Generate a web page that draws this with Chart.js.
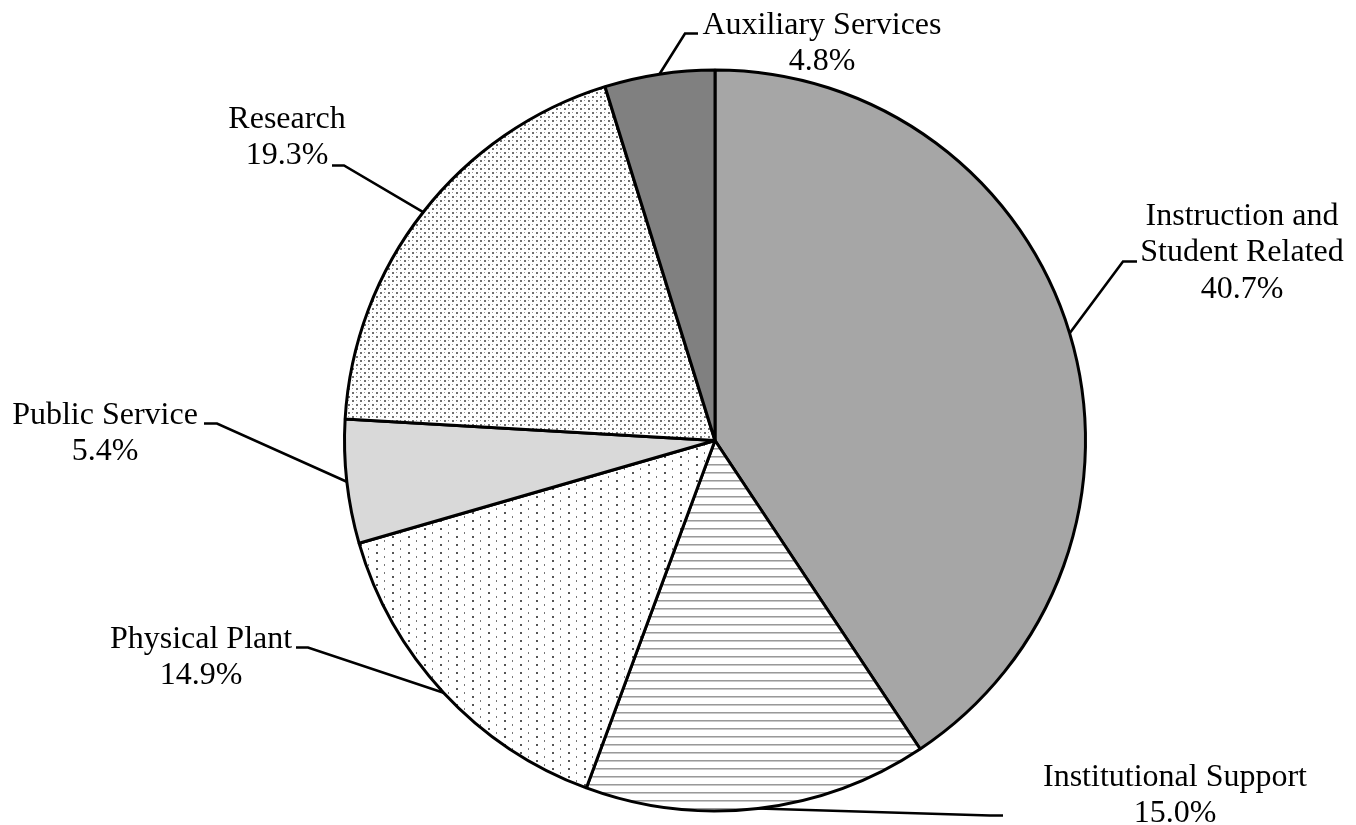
<!DOCTYPE html>
<html>
<head>
<meta charset="utf-8">
<script src="https://cdn.jsdelivr.net/npm/chart.js@4"></script>
<style>
  body { margin: 0; background: #fff; }
  #wrap { width: 1356px; height: 825px; }
</style>
</head>
<body>
<div id="wrap"><canvas id="expenseChart" width="1356" height="825"></canvas></div>
<script>
// Expenditure categories, clockwise from 12 o'clock
const categories = [
    ['Instruction and', 'Student Related'],
    ['Institutional Support'],
    ['Physical Plant'],
    ['Public Service'],
    ['Research'],
    ['Auxiliary Services'],
];
const shares = [40.7, 15.0, 14.9, 5.4, 19.3, 4.8];

// Small repeating tiles used as fills
function makePattern(size, drawTile) {
    const c = document.createElement('canvas');
    c.width = size[0];
    c.height = size[1];
    const g = c.getContext('2d');
    g.fillStyle = '#fff';
    g.fillRect(0, 0, c.width, c.height);
    drawTile(g);
    return c.getContext('2d').createPattern(c, 'repeat');
}

const ctx = document.getElementById('expenseChart').getContext('2d');

const hLines = makePattern([8, 8], (g) => {
    g.fillStyle = '#999';
    g.fillRect(0, 0, 8, 1);
    g.fillStyle = '#c8c8c8';
    g.fillRect(0, 1, 8, 1);
});

const sparseDots = makePattern([16, 8], (g) => {
    g.fillStyle = '#555';
    g.fillRect(8, 0, 2, 2);
    g.fillStyle = '#777';
    g.fillRect(0, 4, 1, 2);
});

const denseDots = makePattern([8, 8], (g) => {
    g.fillStyle = '#6f6f6f';
    g.fillRect(0, 0, 2, 2);
    g.fillRect(4, 4, 2, 2);
    g.fillStyle = '#a0a0a0';
    g.fillRect(4, 0, 1, 1);
    g.fillRect(0, 4, 1, 1);
});

const fills = ['#a6a6a6', hLines, sparseDots, '#d9d9d9', denseDots, '#808080'];

// Leader-line layout, offsets from the pie centre:
// elbow = bend point, end = where the line meets the text,
// tx = text centre x, ty = first baseline
const labelLayout = [
    { elbow: [408, -179], end: [422, -179], tx: 527, ty: -216 },
    { elbow: [275, 375], end: [288, 375], tx: 460, ty: 345 },
    { elbow: [-407, 207], end: [-419, 207], tx: -514, ty: 207 },
    { elbow: [-498, -17], end: [-511, -17], tx: -610, ty: -17 },
    { elbow: [-371, -275], end: [-383, -275], tx: -428, ty: -313 },
    { elbow: [-30, -407], end: [-17, -407], tx: 107, ty: -407 },
];

const leaderLabels = {
    id: 'leaderLabels',
    afterDatasetsDraw(chart) {
        const c = chart.ctx;
        const arcs = chart.getDatasetMeta(0).data;
        c.save();
        c.strokeStyle = '#000';
        c.lineWidth = 2.6;
        c.fillStyle = '#000';
        c.font = '32px "Liberation Serif", "Times New Roman", serif';
        c.textAlign = 'center';
        c.textBaseline = 'alphabetic';
        arcs.forEach((arc, i) => {
            const p = arc.getProps(['x', 'y', 'startAngle', 'endAngle', 'outerRadius'], true);
            const mid = (p.startAngle + p.endAngle) / 2;
            const ax = p.x + Math.cos(mid) * p.outerRadius;
            const ay = p.y + Math.sin(mid) * p.outerRadius;
            const L = labelLayout[i];
            c.beginPath();
            c.moveTo(ax, ay);
            c.lineTo(p.x + L.elbow[0], p.y + L.elbow[1]);
            c.lineTo(p.x + L.end[0], p.y + L.end[1]);
            c.stroke();

            const lines = categories[i].concat([shares[i].toFixed(1) + '%']);
            lines.forEach((t, k) => {
                c.fillText(t, p.x + L.tx, p.y + L.ty + k * 36.5);
            });
        });
        c.restore();
    },
};

new Chart(ctx, {
    type: 'pie',
    data: {
        labels: categories.map((c) => c.join(' ')),
        datasets: [
            {
                data: shares,
                backgroundColor: fills,
                borderColor: '#000',
                borderWidth: 3,
            },
        ],
    },
    options: {
        responsive: false,
        animation: false,
        layout: {
            padding: { top: 68, bottom: 12, left: 343, right: 269 },
        },
        plugins: {
            legend: { display: false },
            tooltip: { enabled: false },
        },
    },
    plugins: [leaderLabels],
});
</script>
</body>
</html>
